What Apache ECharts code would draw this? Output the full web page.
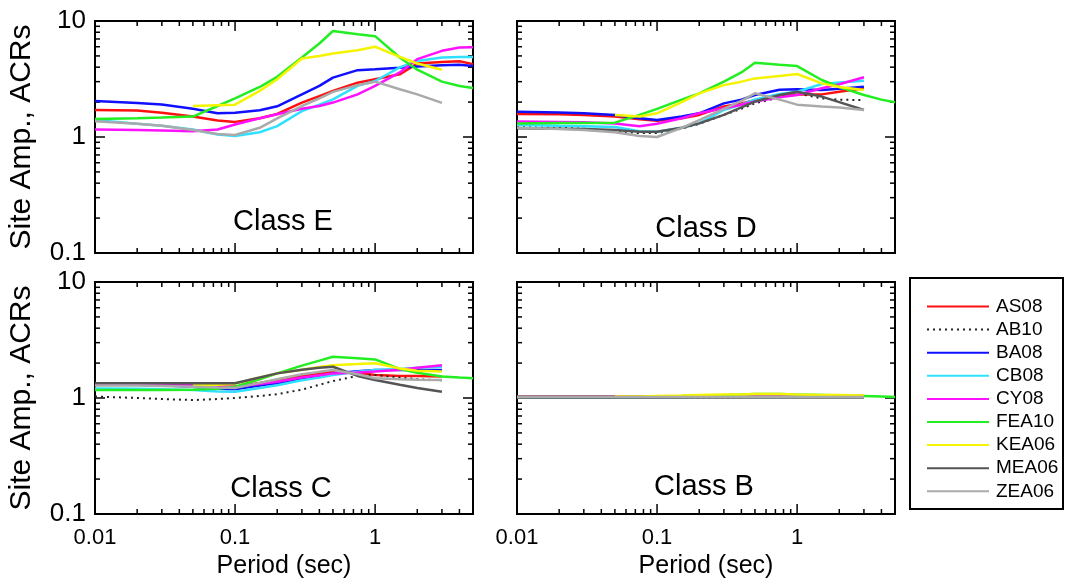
<!DOCTYPE html>
<html><head><meta charset="utf-8">
<script src="https://cdn.jsdelivr.net/npm/echarts@6/dist/echarts.min.js"></script>
<style>html,body{margin:0;padding:0;background:#fff}#c{width:1066px;height:582px}</style>
</head><body><div id="c"></div>
<script>
// ---------- DATA ----------
const periods = [0.01,0.02,0.03,0.05,0.075,0.1,0.15,0.2,0.3,0.4,0.5,0.75,1,1.5,2,3,4,5];
const models = ['AS08','AB10','BA08','CB08','CY08','FEA10','KEA06','MEA06','ZEA06'];
const classNames = ['Class E','Class D','Class C','Class B'];
const xTickLabels = ['0.01','0.1','1'];
const yTickLabels = ['0.1','1','10'];
const _ = null;

// Class E
const E_AS08  = [1.71,1.69,1.62,1.50,1.39,1.35,1.45,1.58,1.98,2.25,2.50,2.94,3.15,3.47,4.30,4.44,4.50,4.25];
const E_BA08  = [2.04,1.96,1.91,1.75,1.60,1.62,1.70,1.84,2.33,2.76,3.25,3.77,3.84,3.95,4.05,4.15,4.20,4.10];
const E_CB08  = [1.40,1.30,1.25,1.16,1.05,1.02,1.10,1.24,1.67,1.90,2.11,2.76,3.04,3.98,4.53,4.85,4.90,4.90];
const E_CY08  = [1.16,1.15,1.14,1.12,1.16,1.28,1.45,1.57,1.75,1.85,1.98,2.33,2.76,3.60,4.69,5.53,5.90,5.95];
const E_FEA10 = [1.43,1.45,1.47,1.50,1.85,2.15,2.70,3.30,4.85,6.40,8.20,7.70,7.40,4.85,3.80,3.00,2.75,2.65];
const E_KEA06 = [_,_,_,1.85,1.88,1.90,2.50,3.15,4.75,5.00,5.25,5.60,6.00,4.90,4.30,3.80,_,_];
const E_ZEA06 = [1.37,1.30,1.25,1.15,1.06,1.04,1.20,1.45,1.85,2.15,2.45,2.80,3.00,2.58,2.33,1.97,_,_];

// Class D
const D_AS08  = [1.58,1.57,1.55,1.50,1.42,1.38,1.45,1.55,1.83,1.95,2.08,2.25,2.33,2.33,2.45,2.63,_,_];
const D_AB10  = [1.22,1.20,1.18,1.12,1.08,1.08,1.18,1.30,1.55,1.75,1.95,2.20,2.38,2.15,2.10,2.08,_,_];
const D_BA08  = [1.65,1.63,1.60,1.55,1.45,1.40,1.50,1.60,1.95,2.10,2.30,2.55,2.58,2.54,2.60,2.71,_,_];
const D_CB08  = [1.27,1.25,1.24,1.22,1.12,1.11,1.20,1.31,1.71,1.90,2.11,2.35,2.46,2.86,2.95,3.06,_,_];
const D_CY08  = [1.36,1.35,1.34,1.31,1.24,1.30,1.45,1.60,1.77,1.90,2.02,2.20,2.30,2.63,2.85,3.27,_,_];
const D_FEA10 = [1.31,1.32,1.32,1.33,1.55,1.75,2.10,2.38,3.00,3.60,4.37,4.20,4.09,3.10,2.70,2.30,2.10,1.99];
const D_KEA06 = [_,_,_,1.55,1.50,1.60,2.00,2.38,2.80,3.00,3.20,3.35,3.49,2.90,2.70,2.54,_,_];
const D_MEA06 = [1.19,1.18,1.17,1.15,1.11,1.11,1.20,1.31,1.55,1.80,2.02,2.30,2.46,2.23,2.00,1.71,_,_];
const D_ZEA06 = [1.20,1.17,1.15,1.10,1.02,1.00,1.20,1.40,1.75,2.05,2.38,2.10,1.90,1.83,1.80,1.71,_,_];

// Class C
const C_AS08  = [1.30,1.30,1.30,1.29,1.26,1.25,1.35,1.43,1.55,1.62,1.69,1.65,1.58,1.55,1.55,1.53,_,_];
const C_AB10  = [1.03,1.00,0.98,0.96,0.98,1.00,1.04,1.08,1.18,1.30,1.40,1.55,1.58,1.50,1.45,1.42,_,_];
const C_BA08  = [1.30,1.30,1.29,1.25,1.20,1.19,1.28,1.34,1.45,1.55,1.63,1.70,1.74,1.74,1.74,1.74,_,_];
const C_CB08  = [1.21,1.20,1.19,1.17,1.14,1.13,1.22,1.29,1.42,1.50,1.58,1.68,1.74,1.78,1.82,1.86,_,_];
const C_CY08  = [1.33,1.32,1.31,1.29,1.25,1.25,1.32,1.38,1.50,1.57,1.63,1.66,1.69,1.75,1.82,1.92,_,_];
const C_FEA10 = [1.17,1.17,1.17,1.18,1.20,1.25,1.45,1.63,1.90,2.10,2.27,2.20,2.15,1.78,1.65,1.53,1.50,1.48];
const C_KEA06 = [_,_,_,1.29,1.30,1.33,1.50,1.63,1.75,1.85,1.92,1.96,1.99,1.80,1.72,1.69,_,_];
const C_MEA06 = [1.34,1.34,1.34,1.34,1.34,1.34,1.50,1.63,1.75,1.82,1.86,1.55,1.43,1.30,1.22,1.13,_,_];
const C_ZEA06 = [1.28,1.28,1.27,1.25,1.23,1.22,1.35,1.45,1.60,1.68,1.74,1.60,1.48,1.45,1.44,1.43,_,_];

// Class B
const B_AS08  = [1.03,1.03,1.03,1.03,1.03,1.03,1.03,1.03,1.04,1.04,1.04,1.04,1.04,1.04,1.04,1.04,_,_];
const B_AB10  = [1.01,1.01,1.01,1.01,1.01,1.01,1.01,1.01,1.01,1.01,1.02,1.02,1.02,1.02,1.02,1.02,_,_];
const B_BA08  = [1.02,1.02,1.02,1.02,1.02,1.02,1.02,1.03,1.03,1.03,1.03,1.03,1.03,1.03,1.03,1.03,_,_];
const B_CB08  = [1.01,1.01,1.01,1.01,1.01,1.01,1.01,1.02,1.02,1.02,1.02,1.02,1.02,1.02,1.02,1.02,_,_];
const B_CY08  = [1.02,1.02,1.02,1.02,1.02,1.02,1.03,1.03,1.03,1.04,1.04,1.04,1.04,1.04,1.04,1.04,_,_];
const B_FEA10 = [1.02,1.02,1.02,1.02,1.02,1.03,1.04,1.05,1.06,1.07,1.08,1.08,1.07,1.06,1.05,1.04,1.03,1.02];
const B_KEA06 = [_,_,_,1.03,1.03,1.04,1.05,1.06,1.07,1.07,1.08,1.08,1.07,1.06,1.06,1.05,_,_];
const B_MEA06 = [1.01,1.01,1.01,1.01,1.01,1.01,1.01,1.01,1.01,1.01,1.01,1.01,1.01,1.01,1.01,1.01,_,_];
const B_ZEA06 = [1.02,1.02,1.02,1.02,1.02,1.02,1.02,1.02,1.02,1.02,1.02,1.02,1.02,1.02,1.02,1.02,_,_];

const panelData = [
  {AS08:E_AS08, BA08:E_BA08, CB08:E_CB08, CY08:E_CY08, FEA10:E_FEA10, KEA06:E_KEA06, ZEA06:E_ZEA06},
  {AS08:D_AS08, AB10:D_AB10, BA08:D_BA08, CB08:D_CB08, CY08:D_CY08, FEA10:D_FEA10, KEA06:D_KEA06, MEA06:D_MEA06, ZEA06:D_ZEA06},
  {AS08:C_AS08, AB10:C_AB10, BA08:C_BA08, CB08:C_CB08, CY08:C_CY08, FEA10:C_FEA10, KEA06:C_KEA06, MEA06:C_MEA06, ZEA06:C_ZEA06},
  {AS08:B_AS08, AB10:B_AB10, BA08:B_BA08, CB08:B_CB08, CY08:B_CY08, FEA10:B_FEA10, KEA06:B_KEA06, MEA06:B_MEA06, ZEA06:B_ZEA06}
];

// ---------- STYLE ----------
const FONT = 'Liberation Sans, Arial, Helvetica, sans-serif';
const colors = {AS08:'#ff1010', AB10:'#222222', BA08:'#1010ff', CB08:'#30e0ff', CY08:'#ff10ff',
                FEA10:'#22ee22', KEA06:'#f4f400', MEA06:'#555555', ZEA06:'#aaaaaa'};
const grids = [
  {left:95,  top:21,  width:378, height:232},
  {left:517, top:21,  width:378, height:232},
  {left:95,  top:282, width:378, height:232},
  {left:517, top:282, width:378, height:232}
];
const classPos = [[283,222],[706,229],[281,489],[704,487]];

function labelFor(v, list){
  for (const s of list){ const n = Number(s); if (Math.abs(v-n) <= n*1e-6) return s; }
  return '';
}

const chart = echarts.init(document.getElementById('c'), null, {renderer:'canvas'});
const xAxes = [], yAxes = [], series = [];
grids.forEach((g, p) => {
  const showX = p >= 2, showY = (p % 2) === 0;
  xAxes.push({
    type:'log', logBase:10, gridIndex:p, min:0.01, max:5,
    axisLine:{show:false}, axisTick:{show:false}, splitLine:{show:false},
    axisLabel:{show:showX, fontSize:22, color:'#000', fontFamily:FONT, margin:13,
      formatter: v => labelFor(v, xTickLabels)},
    name: showX ? 'Period (sec)' : '', nameLocation:'middle', nameGap:40,
    nameTextStyle:{fontSize:25, color:'#000', fontFamily:FONT}
  });
  yAxes.push({
    type:'log', logBase:10, gridIndex:p, min:0.1, max:10,
    axisLine:{show:false}, axisTick:{show:false}, splitLine:{show:false},
    axisLabel:{show:showY, fontSize:26, color:'#000', fontFamily:FONT, margin:9,
      formatter: v => labelFor(v, yTickLabels)},
    name: showY ? 'Site Amp., ACRs' : '', nameLocation:'middle', nameGap:58,
    nameTextStyle:{fontSize:30, color:'#000', fontFamily:FONT}
  });
  models.forEach(m => {
    const vals = panelData[p][m];
    if (!vals) return;
    const data = [];
    periods.forEach((t, i) => { if (vals[i] != null) data.push([t, vals[i]]); });
    series.push({
      type:'line', name:m, xAxisIndex:p, yAxisIndex:p, data,
      symbol:'none', showSymbol:false, animation:false,
      lineStyle:{color:colors[m], width: m==='AB10' ? 2 : 2.5, type: m==='AB10' ? [2,4] : 'solid'},
      itemStyle:{color:colors[m]}
    });
  });
});

chart.setOption({
  animation:false,
  backgroundColor:'#fff',
  grid: grids.map(g => Object.assign({show:true, borderColor:'#000', borderWidth:2, backgroundColor:'transparent'}, g)),
  xAxis: xAxes, yAxis: yAxes, series,
  legend:{
    data: models, orient:'vertical', left:921, top:292, itemWidth:62, itemHeight:18, itemGap:4.1,
    selectedMode:false,
    itemStyle:{opacity:0, borderWidth:0},
    textStyle:{fontSize:19, color:'#000', fontFamily:FONT, padding:[0,0,0,2]}
  }
});

// ticks and labels as graphic elements
const gfx = [];
const xMinor = [0.02,0.03,0.04,0.05,0.06,0.07,0.08,0.09,0.2,0.3,0.4,0.5,0.6,0.7,0.8,0.9,2,3,4];
const xMajor = [0.1,1];
const yMinor = [0.2,0.3,0.4,0.5,0.6,0.7,0.8,0.9,2,3,4,5,6,7,8,9];
const yMajor = [1];
grids.forEach((g, p) => {
  const top = g.top, bot = g.top + g.height, lef = g.left, rig = g.left + g.width;
  const addX = (t, len) => {
    const px = chart.convertToPixel({gridIndex:p}, [t, 1])[0];
    gfx.push({type:'line', shape:{x1:px,y1:bot,x2:px,y2:bot-len}, style:{stroke:'#000', lineWidth:1.5}, silent:true});
    gfx.push({type:'line', shape:{x1:px,y1:top,x2:px,y2:top+len}, style:{stroke:'#000', lineWidth:1.5}, silent:true});
  };
  const addY = (v, len) => {
    const py = chart.convertToPixel({gridIndex:p}, [1, v])[1];
    gfx.push({type:'line', shape:{x1:lef,y1:py,x2:lef+len,y2:py}, style:{stroke:'#000', lineWidth:1.5}, silent:true});
    gfx.push({type:'line', shape:{x1:rig,y1:py,x2:rig-len,y2:py}, style:{stroke:'#000', lineWidth:1.5}, silent:true});
  };
  xMinor.forEach(t => addX(t, 5)); xMajor.forEach(t => addX(t, 10));
  yMinor.forEach(v => addY(v, 5)); yMajor.forEach(v => addY(v, 10));
  gfx.push({type:'text', x:classPos[p][0], y:classPos[p][1], silent:true,
    style:{text:classNames[p], fontSize:29, fontFamily:FONT, fill:'#000', align:'center', verticalAlign:'middle'}});
});
gfx.push({type:'rect', shape:{x:910, y:278, width:153, height:231},
  style:{fill:'none', stroke:'#000', lineWidth:2}, silent:true});
chart.setOption({graphic: gfx});
</script>
</body></html>
